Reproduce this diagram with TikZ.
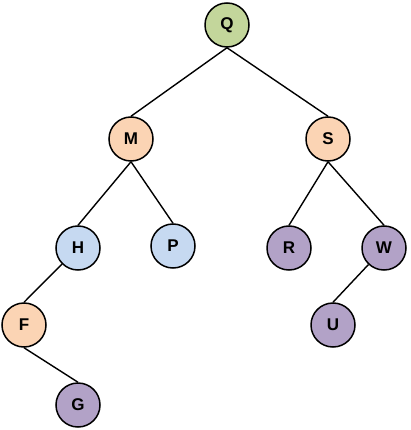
\documentclass[tikz,border=0pt]{standalone}
\usepackage{fontspec}
\setmainfont{Liberation Sans}
\usepackage{tikz}
\usetikzlibrary{arrows.meta,calc}

\definecolor{leafgreen}{HTML}{C3D69B}
\definecolor{leafblue}{HTML}{C6D9F1}
\definecolor{leafpeach}{HTML}{FBD4B4}
\definecolor{leafpurple}{HTML}{B2A2C7}

\begin{document}
\begin{tikzpicture}[x=1pt,y=-1pt,
		vertex/.style={circle,draw=black,line width=1.5pt,minimum size=44pt,inner sep=0pt,
			font=\fontsize{17}{17}\selectfont\bfseries},
		branch/.style={line width=1.4pt}]
		\useasboundingbox (0,0) rectangle (410,430);
		\node[vertex,fill=leafgreen] (Q) at (227,25) {Q};
		\node[vertex,fill=leafpeach] (M) at (131,139) {M};
		\node[vertex,fill=leafpeach] (S) at (328,139) {S};
		\node[vertex,fill=leafblue] (H) at (78,248) {H};
		\node[vertex,fill=leafblue] (P) at (173,246) {P};
		\node[vertex,fill=leafpurple] (R) at (289,248) {R};
		\node[vertex,fill=leafpurple] (W) at (384,248) {W};
		\node[vertex,fill=leafpeach] (F) at (24,325) {F};
		\node[vertex,fill=leafpurple] (U) at (333,325) {U};
		\node[vertex,fill=leafpurple] (G) at (78,405) {G};
		\draw[branch] (Q.south)--(M.north);
		\draw[branch] (Q.south)--(S.north);
		\draw[branch] (M.south)--(H.north);
		\draw[branch] (M.south)--(P.north);
		\draw[branch] (S.south)--(R.north);
		\draw[branch] (S.south)--(W.north);
		\draw[branch] (H)--(F.north);
		\draw[branch] (W)--(U.north);
		\draw[branch] (F.south)--(G.north);
	\end{tikzpicture}
\end{document}
